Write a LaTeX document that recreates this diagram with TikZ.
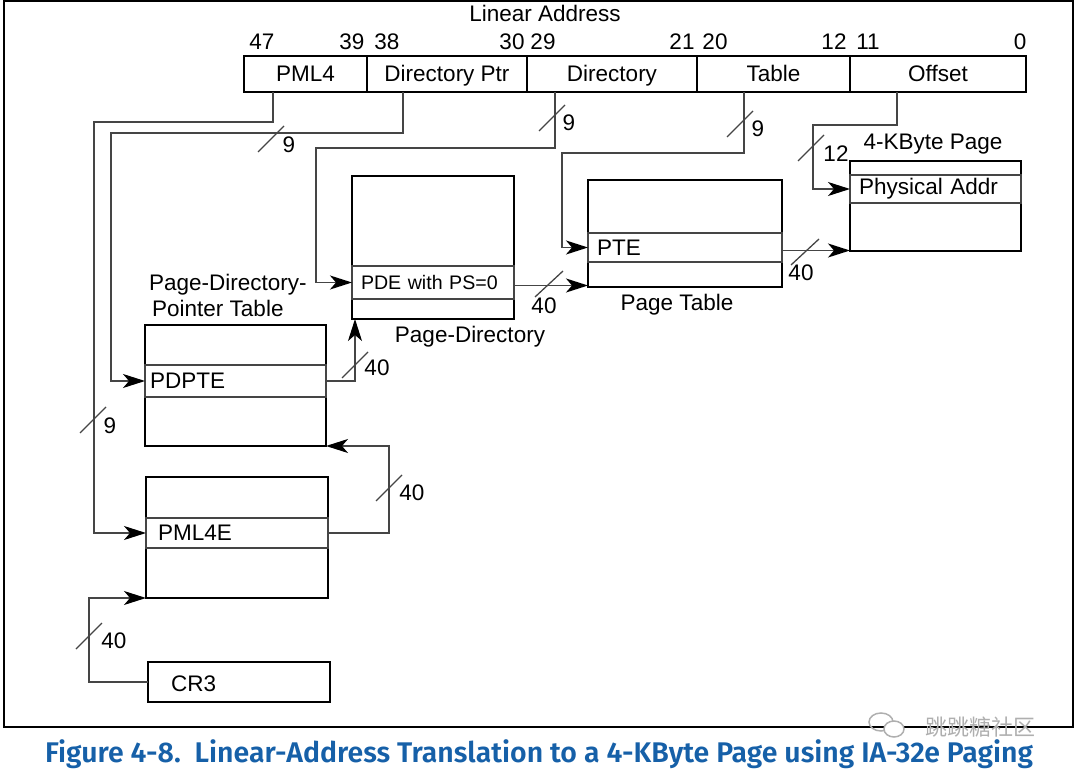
\documentclass[tikz,border=0pt]{standalone}
\usepackage{fontspec}
\setmainfont{Liberation Sans}
\newfontfamily\capfont{Fira Sans}[BoldFont={Fira Sans SemiBold}]
\newfontfamily\cjkfont{Noto Sans CJK SC}
\usepackage{graphicx}
\usetikzlibrary{arrows.meta, positioning, calc}
\definecolor{capblue}{HTML}{1660A8}
\definecolor{wire}{HTML}{454545}
\definecolor{wmark}{HTML}{AFAFAF}

\begin{document}
\begin{tikzpicture}[x=1pt, y=-1pt,
  txt/.style={font=\fontsize{22.5}{26}\selectfont, inner sep=0pt},
  field/.style={draw, line width=2.2pt, minimum height=36pt, inner sep=0pt,
                outer sep=0pt, text height=16pt, text depth=0pt,
                font=\fontsize{22.5}{26}\selectfont},
  tbl/.style={draw, line width=2.4pt, anchor=north west, inner sep=0pt, outer sep=0pt},
  entry/.style={draw=wire, line width=1.1pt, anchor=north west, inner xsep=9pt,
                inner ysep=0pt, outer sep=0pt, align=left,
                font=\fontsize{22.5}{26}\selectfont},
  conn/.style={draw=wire, line width=1.5pt},
  arr/.style={conn, -{Stealth[length=22pt, width=14pt, inset=6pt, black]}},
  bus/.style={draw=wire, line width=1.3pt}
]
  \useasboundingbox (0,0) rectangle (1080,778);
  \draw[line width=2.5pt] (4,1) rectangle (1073,727);

  % linear address bar
  \node[txt] (title) at (545,13) {Linear Address};
  \node[field, minimum width=123pt, anchor=north west] (pml4f) at (244,56) {PML4};
  \node[field, minimum width=160pt, right=0pt of pml4f] (dptrf) {Directory Ptr};
  \node[field, minimum width=170pt, right=0pt of dptrf] (dirf) {Directory};
  \node[field, minimum width=153pt, right=0pt of dirf] (tblf) {Table};
  \node[field, minimum width=176pt, right=0pt of tblf] (offf) {Offset};

  % bit numbers
  \node[txt] (b47) at (262,42) {47};
  \node[txt] (b39) at (352,42) {39};
  \node[txt] (b38) at (387,42) {38};
  \node[txt] (b30) at (512,42) {30};
  \node[txt] (b29) at (543,42) {29};
  \node[txt] (b21) at (682,42) {21};
  \node[txt] (b20) at (715,42) {20};
  \node[txt] (b12) at (834,42) {12};
  \node[txt] (b11) at (868,42) {11};
  \node[txt] (b0) at (1020,42) {0};

  % tables
  \node[tbl, minimum width=171pt, minimum height=90pt] (page) at (850,161) {};
  \node[entry, text width=153pt, minimum height=28pt] (pa) at (850,175) {Physical Addr};
  \node[txt] (pagelbl) at (933,144) {4-KByte Page};

  \node[tbl, minimum width=194pt, minimum height=107pt] (ptab) at (588,180) {};
  \node[entry, text width=176pt, minimum height=29pt] (pte) at (588,233) {PTE};
  \node[txt] (ptablbl) at (677,305) {Page Table};

  \node[tbl, minimum width=162pt, minimum height=143pt] (pdir) at (352,176) {};
  \node[entry, text width=144pt, minimum height=33pt, font=\fontsize{19.6}{23}\selectfont] (pde) at (352,266) {PDE with PS=0};
  \node[txt] (pdirlbl) at (470,337) {Page-Directory};

  \node[tbl, minimum width=181pt, minimum height=121pt] (pdpt) at (145,325) {};
  \node[entry, text width=171pt, minimum height=32pt, inner xsep=5pt] (pdpte) at (145,365) {PDPTE};
  \node[txt, align=left, anchor=west] (pdptlbl) at (149,295) {Page-Directory-\\\hspace*{3pt}Pointer Table};

  \node[tbl, minimum width=182pt, minimum height=121pt] (pml4t) at (146,477) {};
  \node[entry, text width=158pt, minimum height=30pt, inner xsep=12pt] (pml4e) at (146,518) {PML4E};

  \node[tbl, minimum width=182pt, minimum height=40pt] (cr3) at (148,662) {};
  \node[txt, anchor=west] (cr3lbl) at (171,684) {CR3};

  % index lines from the address
  \draw[arr] ($(pml4f.south west)+(29,0)$) -- ++(0,30) -| ($(pml4e.west)+(-52,0)$) -- (pml4e.west);
  \draw[arr] ($(dptrf.south west)+(36,0)$) -- ++(0,41) -| ($(pdpte.west)+(-34,0)$) -- (pdpte.west);
  \draw[arr] ($(dirf.south west)+(28,0)$) -- ++(0,56) -| ($(pde.west)+(-36,0)$) -- (pde.west);
  \draw[arr] ($(tblf.south west)+(47,0)$) -- ++(0,61) -| ($(pte.west)+(-26,0)$) -- (pte.west);
  \draw[arr] ($(offf.south west)+(47,0)$) -- ++(0,33) -| ($(pa.west)+(-37,0)$) -- (pa.west);

  % base addresses
  \coordinate (pdeout) at ($(pde.east)+(0,3)$);
  \coordinate (pteout) at ($(pte.east)+(0,3)$);
  \draw[arr] (cr3.west) -- ++(-59,0) |- (pml4t.south west);
  \draw[arr] (pml4e.east) -- ++(61,0) |- (pdpt.south east);
  \draw[arr] (pdpte.east) -| ($(pdir.south west)+(3,0)$);
  \draw[arr] (pdeout) -- (pdeout -| ptab.west);
  \draw[arr] (pteout) -- (pteout -| page.west);

  % bus widths
  \draw[bus] (93,420) ++(-13,13) -- ++(26,-26);
  \node[txt] (w1) at (110,426) {9};
  \draw[bus] (271,139) ++(-13,13) -- ++(26,-26);
  \node[txt] (w2) at (289,145) {9};
  \draw[bus] (552,118) ++(-13,13) -- ++(26,-26);
  \node[txt] (w3) at (569,123) {9};
  \draw[bus] (740,124) ++(-13,13) -- ++(26,-26);
  \node[txt] (w4) at (758,129) {9};
  \draw[bus] (811,148) ++(-13,13) -- ++(26,-26);
  \node[txt] (w5) at (836,154) {12};
  \draw[bus] (805,252) ++(-14,13) -- ++(28,-26);
  \node[txt] (w6) at (801,273) {40};
  \draw[bus] (549,284) ++(-14,13) -- ++(28,-26);
  \node[txt] (w7) at (544,306) {40};
  \draw[bus] (355,365) ++(-13,13) -- ++(26,-26);
  \node[txt] (w8) at (377,368) {40};
  \draw[bus] (389,488) ++(-13,13) -- ++(26,-26);
  \node[txt] (w9) at (412,493) {40};
  \draw[bus] (89,636) ++(-13,13) -- ++(26,-26);
  \node[txt] (w10) at (114,641) {40};

  % watermark
  \draw[wmark, line width=1.5pt] (881,722) ellipse (12 and 9);
  \draw[wmark, line width=1.5pt, fill=white] (894,729) ellipse (10 and 8);
  \node[font=\cjkfont\fontsize{22}{24}\selectfont, text=wmark, inner sep=0pt] (wm) at (980,727) {跳跳糖社区};

  % caption
  \node[inner sep=0pt, text=capblue] (cap) at (539,754)
    {\resizebox{988pt}{!}{\capfont\bfseries\fontsize{28}{30}\selectfont Figure 4-8.\ \ Linear-Address Translation to a 4-KByte Page using IA-32e Paging}};
\end{tikzpicture}
\end{document}
